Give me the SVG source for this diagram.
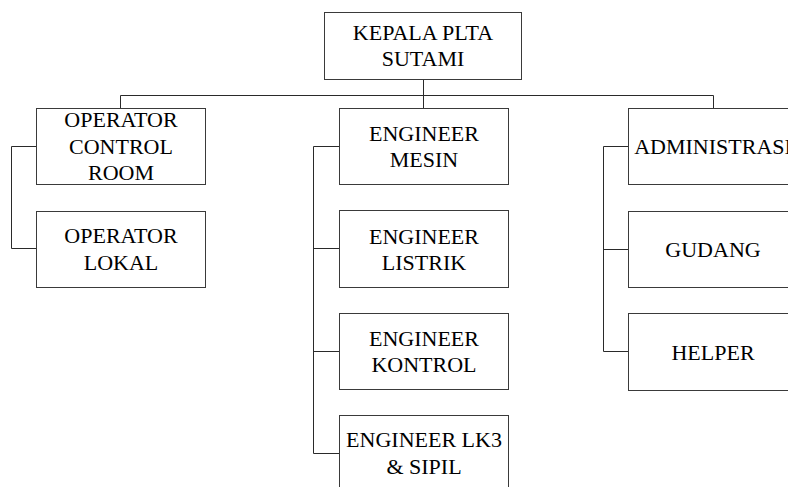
<svg xmlns="http://www.w3.org/2000/svg" width="788" height="487" viewBox="0 0 788 487">
<style>
.box{fill:#fff;stroke:#3a3a3a;stroke-width:1}
.ln{fill:none;stroke:#2a2a2a;stroke-width:1}
.t{font-family:'Liberation Serif','Tinos','Times New Roman','DejaVu Serif',serif;font-size:22px;fill:#000;text-anchor:middle}
</style>
<rect width="788" height="487" fill="#fff"/>
<g id="connectors">
<path class="ln" d="M423.5 79V108.5M120.5 108V95.5H713.5V108"/>
<path class="ln" d="M36 146.5H11.5V248.5H36"/>
<path class="ln" d="M339 146.5H313.5V453.5H339M313.5 248.5H339M313.5 351.5H339"/>
<path class="ln" d="M628 146.5H603.5V351.5H628M603.5 249.5H628"/>
</g>
<g id="kepala"><rect class="box" x="324.5" y="12.5" width="197" height="67"/><text class="t" x="423" y="39.5">KEPALA PLTA</text><text class="t" x="423" y="65.5">SUTAMI</text></g>
<g id="op-control"><rect class="box" x="36.5" y="108.5" width="169" height="76"/><text class="t" x="121" y="127">OPERATOR</text><text class="t" x="121" y="153.5">CONTROL</text><text class="t" x="121" y="180">ROOM</text></g>
<g id="op-lokal"><rect class="box" x="36.5" y="211.5" width="169" height="76"/><text class="t" x="121" y="243">OPERATOR</text><text class="t" x="121" y="269.5">LOKAL</text></g>
<g id="eng-mesin"><rect class="box" x="339.5" y="108.5" width="169" height="76"/><text class="t" x="424" y="141">ENGINEER</text><text class="t" x="424" y="167">MESIN</text></g>
<g id="eng-listrik"><rect class="box" x="339.5" y="210.5" width="169" height="77"/><text class="t" x="424" y="243.5">ENGINEER</text><text class="t" x="424" y="269.5">LISTRIK</text></g>
<g id="eng-kontrol"><rect class="box" x="339.5" y="313.5" width="169" height="76"/><text class="t" x="424" y="346">ENGINEER</text><text class="t" x="424" y="372">KONTROL</text></g>
<g id="eng-lk3"><rect class="box" x="339.5" y="415.5" width="169" height="76"/><text class="t" x="424" y="447">ENGINEER LK3</text><text class="t" x="424" y="473.5">&amp; SIPIL</text></g>
<g id="administrasi"><rect class="box" x="628.5" y="108.5" width="169" height="76"/><text class="t" x="713" y="154">ADMINISTRASI</text></g>
<g id="gudang"><rect class="box" x="628.5" y="211.5" width="169" height="76"/><text class="t" x="713" y="256.5">GUDANG</text></g>
<g id="helper"><rect class="box" x="628.5" y="313.5" width="169" height="77"/><text class="t" x="713" y="359.5">HELPER</text></g>
</svg>
